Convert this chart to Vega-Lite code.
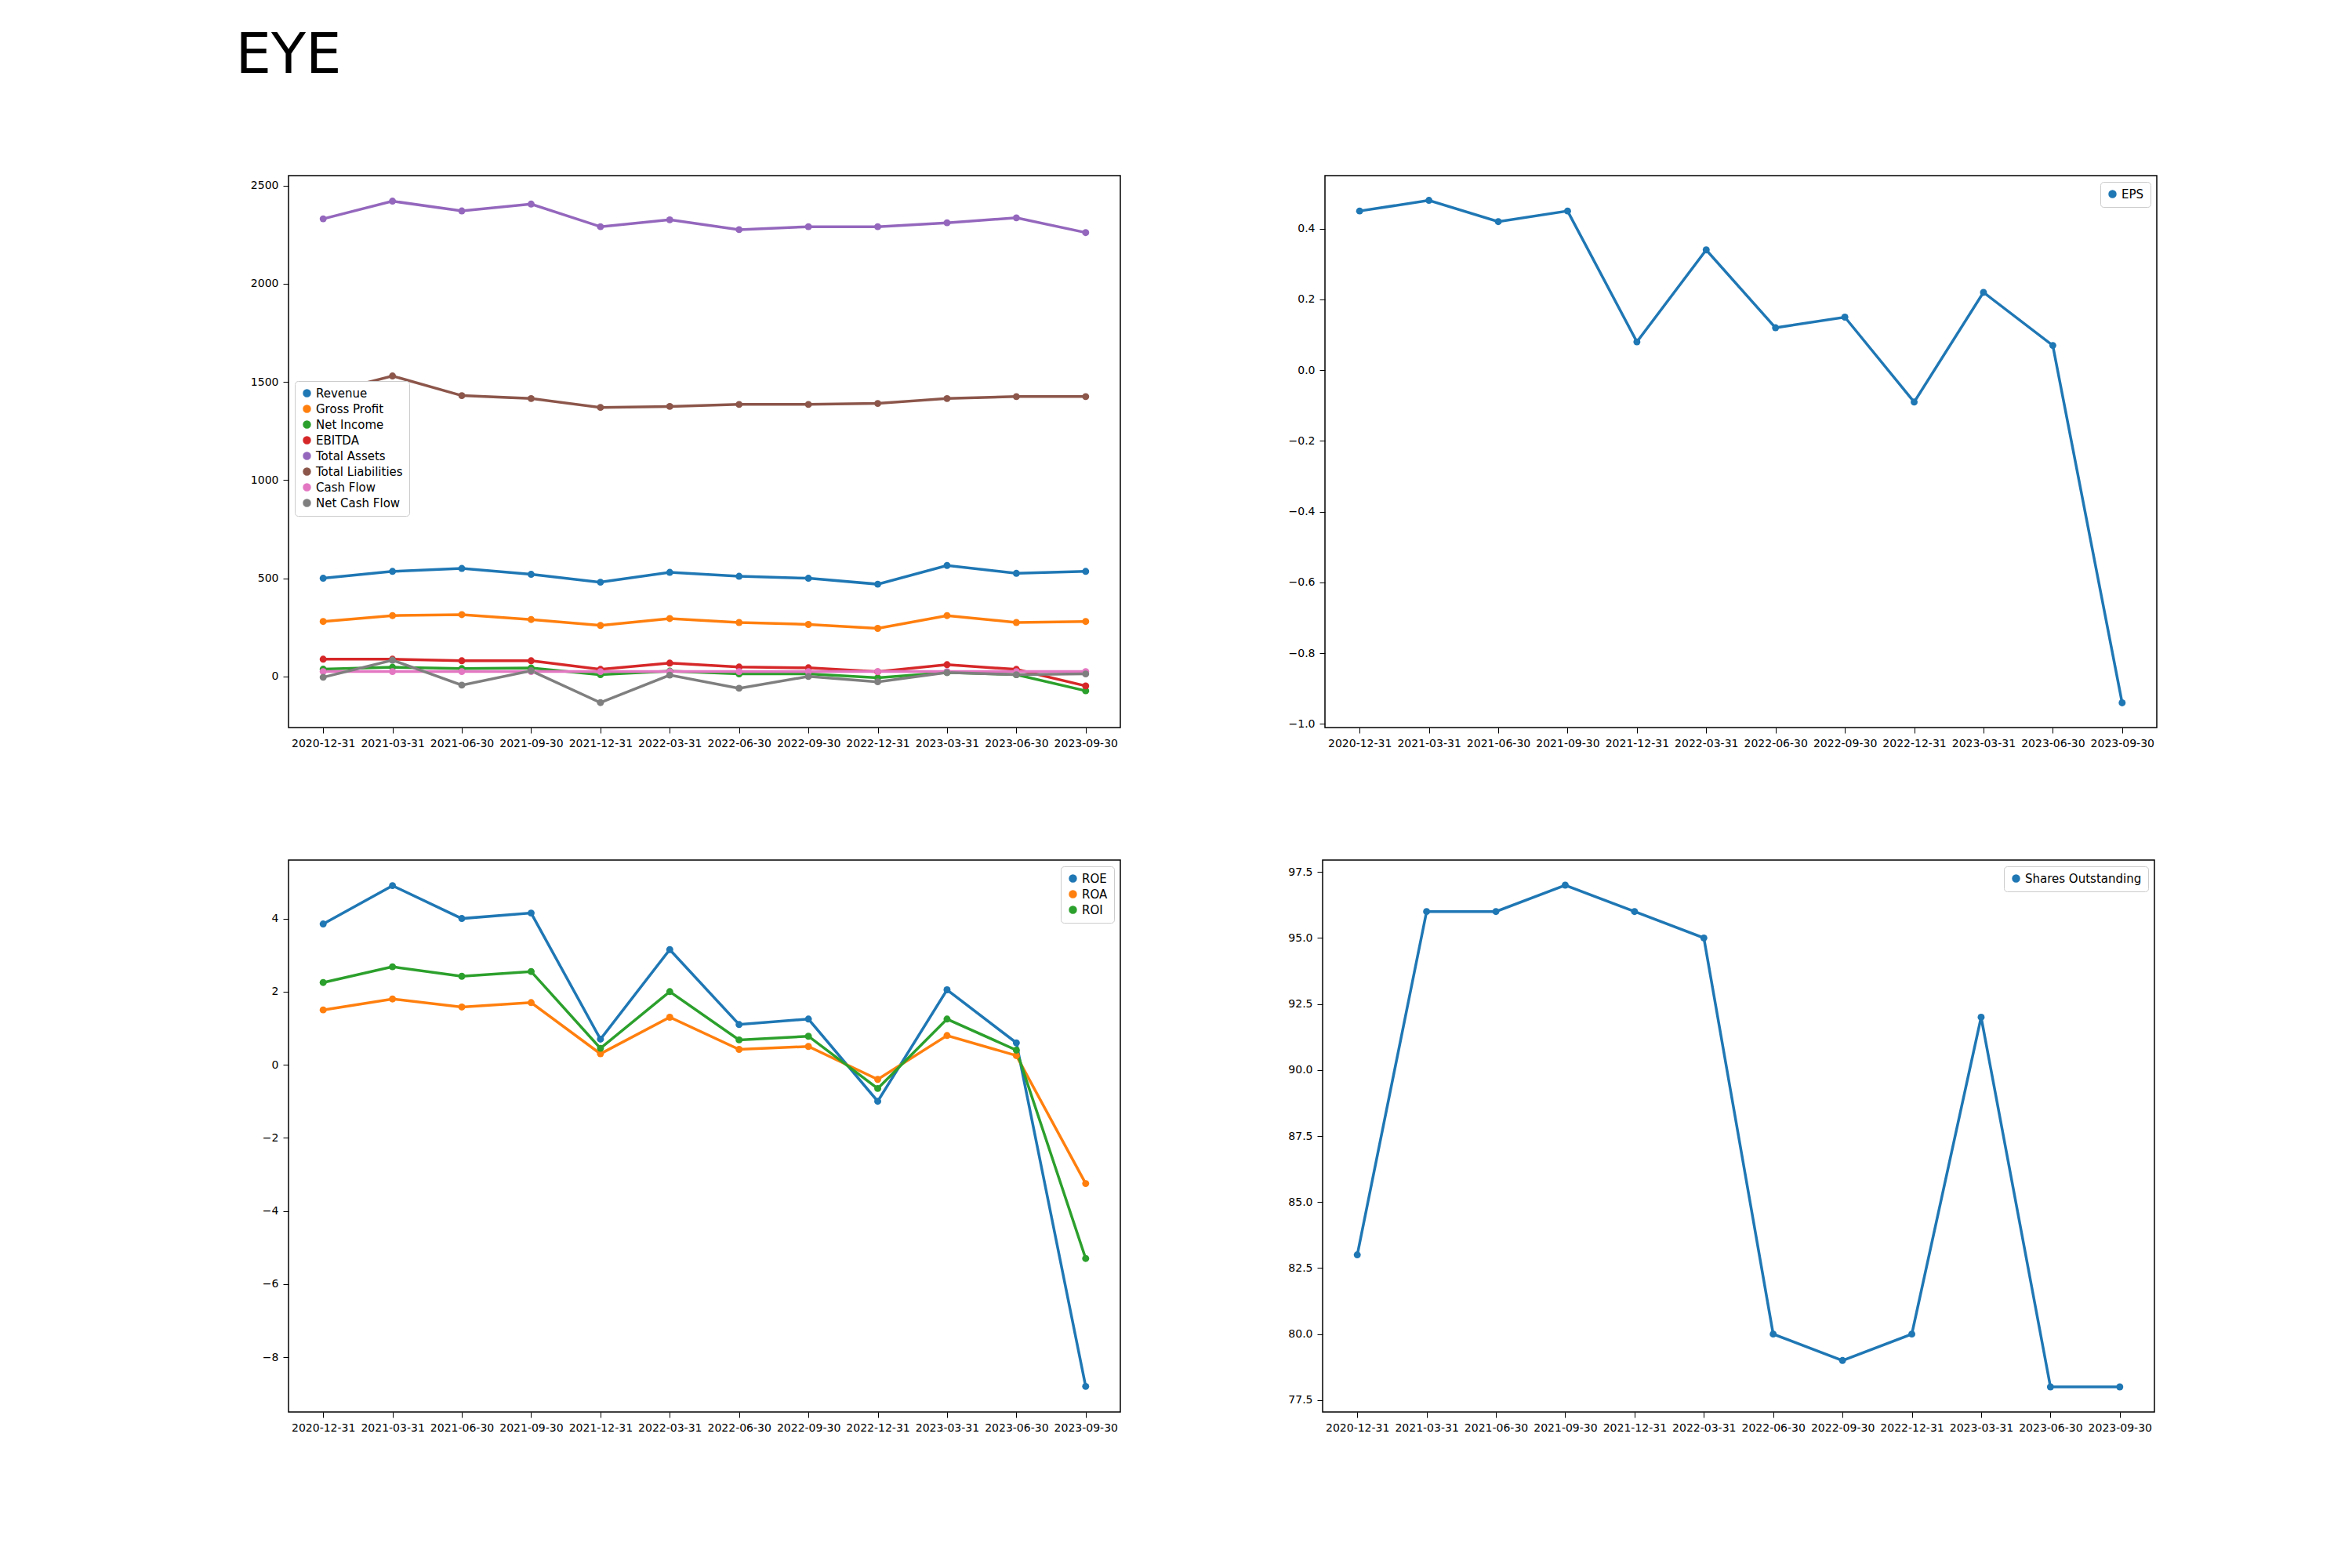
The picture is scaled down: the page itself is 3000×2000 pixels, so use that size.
{
  "$schema": "https://vega.github.io/schema/vega-lite/v6.json",
  "title": {"text": "EYE", "fontSize": 72, "font": "DejaVu Sans", "fontWeight": "normal", "offset": 115, "anchor": "middle", "frame": "group"},
  "padding": {"top": 35, "left": 300, "right": 40, "bottom": 20},
  "datasets": {
    "fin": [
      {"date": "2020-12-31", "Revenue": 500, "Gross Profit": 280, "Net Income": 37, "EBITDA": 88, "Total Assets": 2330, "Total Liabilities": 1440, "Cash Flow": 25, "Net Cash Flow": -4, "EPS": 0.45, "ROE": 3.85, "ROA": 1.5, "ROI": 2.25, "Shares Outstanding": 83},
      {"date": "2021-03-31", "Revenue": 535, "Gross Profit": 310, "Net Income": 47, "EBITDA": 88, "Total Assets": 2420, "Total Liabilities": 1530, "Cash Flow": 25, "Net Cash Flow": 83, "EPS": 0.48, "ROE": 4.9, "ROA": 1.8, "ROI": 2.68, "Shares Outstanding": 96},
      {"date": "2021-06-30", "Revenue": 550, "Gross Profit": 315, "Net Income": 40, "EBITDA": 80, "Total Assets": 2370, "Total Liabilities": 1430, "Cash Flow": 25, "Net Cash Flow": -44, "EPS": 0.42, "ROE": 4.0, "ROA": 1.58, "ROI": 2.42, "Shares Outstanding": 96},
      {"date": "2021-09-30", "Revenue": 520, "Gross Profit": 290, "Net Income": 43, "EBITDA": 80, "Total Assets": 2405, "Total Liabilities": 1415, "Cash Flow": 25, "Net Cash Flow": 29, "EPS": 0.45, "ROE": 4.15, "ROA": 1.7, "ROI": 2.55, "Shares Outstanding": 97},
      {"date": "2021-12-31", "Revenue": 480, "Gross Profit": 260, "Net Income": 9, "EBITDA": 36, "Total Assets": 2290, "Total Liabilities": 1370, "Cash Flow": 25, "Net Cash Flow": -133, "EPS": 0.08, "ROE": 0.7, "ROA": 0.3, "ROI": 0.45, "Shares Outstanding": 96},
      {"date": "2022-03-31", "Revenue": 530, "Gross Profit": 295, "Net Income": 27, "EBITDA": 68, "Total Assets": 2325, "Total Liabilities": 1375, "Cash Flow": 25, "Net Cash Flow": 7, "EPS": 0.34, "ROE": 3.15, "ROA": 1.3, "ROI": 2.0, "Shares Outstanding": 95},
      {"date": "2022-06-30", "Revenue": 510, "Gross Profit": 275, "Net Income": 13, "EBITDA": 48, "Total Assets": 2275, "Total Liabilities": 1385, "Cash Flow": 25, "Net Cash Flow": -60, "EPS": 0.12, "ROE": 1.1, "ROA": 0.42, "ROI": 0.68, "Shares Outstanding": 80},
      {"date": "2022-09-30", "Revenue": 500, "Gross Profit": 265, "Net Income": 13, "EBITDA": 44, "Total Assets": 2290, "Total Liabilities": 1385, "Cash Flow": 25, "Net Cash Flow": 0, "EPS": 0.15, "ROE": 1.25, "ROA": 0.5, "ROI": 0.78, "Shares Outstanding": 79},
      {"date": "2022-12-31", "Revenue": 470, "Gross Profit": 245, "Net Income": -7, "EBITDA": 24, "Total Assets": 2290, "Total Liabilities": 1390, "Cash Flow": 25, "Net Cash Flow": -27, "EPS": -0.09, "ROE": -1.0, "ROA": -0.4, "ROI": -0.65, "Shares Outstanding": 80},
      {"date": "2023-03-31", "Revenue": 565, "Gross Profit": 310, "Net Income": 20, "EBITDA": 60, "Total Assets": 2310, "Total Liabilities": 1415, "Cash Flow": 25, "Net Cash Flow": 20, "EPS": 0.22, "ROE": 2.05, "ROA": 0.8, "ROI": 1.25, "Shares Outstanding": 92},
      {"date": "2023-06-30", "Revenue": 525, "Gross Profit": 275, "Net Income": 9, "EBITDA": 36, "Total Assets": 2335, "Total Liabilities": 1425, "Cash Flow": 25, "Net Cash Flow": 9, "EPS": 0.07, "ROE": 0.6, "ROA": 0.25, "ROI": 0.4, "Shares Outstanding": 78},
      {"date": "2023-09-30", "Revenue": 535, "Gross Profit": 280, "Net Income": -73, "EBITDA": -48, "Total Assets": 2260, "Total Liabilities": 1425, "Cash Flow": 25, "Net Cash Flow": 13, "EPS": -0.94, "ROE": -8.8, "ROA": -3.25, "ROI": -5.3, "Shares Outstanding": 78}
    ]
  },
  "data": {"name": "fin"},
  "vconcat": [
    {
      "resolve": {"scale": {"color": "independent"}, "legend": {"color": "independent"}},
      "hconcat": [
        {
          "width": 1061, "height": 704,
          "transform": [{"fold": ["Revenue", "Gross Profit", "Net Income", "EBITDA", "Total Assets", "Total Liabilities", "Cash Flow", "Net Cash Flow"], "as": ["metric", "value"]}],
          "mark": {"type": "line", "point": {"size": 80, "filled": true}, "strokeWidth": 3.5},
          "encoding": {
            "x": {"field": "date", "type": "ordinal", "title": null},
            "y": {"field": "value", "type": "quantitative", "title": null, "scale": {"domain": [-260, 2550], "nice": false, "zero": false}, "axis": {"values": [0, 500, 1000, 1500, 2000, 2500], "format": "d"}},
            "color": {"field": "metric", "type": "nominal", "title": null,
              "scale": {"domain": ["Revenue", "Gross Profit", "Net Income", "EBITDA", "Total Assets", "Total Liabilities", "Cash Flow", "Net Cash Flow"], "range": ["#1f77b4", "#ff7f0e", "#2ca02c", "#d62728", "#9467bd", "#8c564b", "#e377c2", "#7f7f7f"]},
              "legend": {"orient": "none", "legendX": 8, "legendY": 262}}
          }
        },
        {
          "width": 1061, "height": 704,
          "transform": [{"fold": ["EPS"], "as": ["metric", "value"]}],
          "mark": {"type": "line", "point": {"size": 80, "filled": true}, "strokeWidth": 3.5},
          "encoding": {
            "x": {"field": "date", "type": "ordinal", "title": null},
            "y": {"field": "value", "type": "quantitative", "title": null, "scale": {"domain": [-1.01, 0.55], "nice": false, "zero": false}, "axis": {"values": [-1.0, -0.8, -0.6, -0.4, -0.2, 0.0, 0.2, 0.4], "format": ".1f"}},
            "color": {"field": "metric", "type": "nominal", "title": null, "scale": {"domain": ["EPS"], "range": ["#1f77b4"]}, "legend": {"orient": "top-right"}}
          }
        }
      ]
    },
    {
      "resolve": {"scale": {"color": "independent"}, "legend": {"color": "independent"}},
      "hconcat": [
        {
          "width": 1061, "height": 704,
          "transform": [{"fold": ["ROE", "ROA", "ROI"], "as": ["metric", "value"]}],
          "mark": {"type": "line", "point": {"size": 80, "filled": true}, "strokeWidth": 3.5},
          "encoding": {
            "x": {"field": "date", "type": "ordinal", "title": null},
            "y": {"field": "value", "type": "quantitative", "title": null, "scale": {"domain": [-9.5, 5.6], "nice": false, "zero": false}, "axis": {"values": [-8, -6, -4, -2, 0, 2, 4]}},
            "color": {"field": "metric", "type": "nominal", "title": null, "scale": {"domain": ["ROE", "ROA", "ROI"], "range": ["#1f77b4", "#ff7f0e", "#2ca02c"]}, "legend": {"orient": "top-right"}}
          }
        },
        {
          "width": 1061, "height": 704,
          "transform": [{"fold": ["Shares Outstanding"], "as": ["metric", "value"]}],
          "mark": {"type": "line", "point": {"size": 80, "filled": true}, "strokeWidth": 3.5},
          "encoding": {
            "x": {"field": "date", "type": "ordinal", "title": null},
            "y": {"field": "value", "type": "quantitative", "title": null, "scale": {"domain": [77.05, 97.95], "nice": false, "zero": false}, "axis": {"values": [77.5, 80, 82.5, 85, 87.5, 90, 92.5, 95, 97.5], "format": ".1f"}},
            "color": {"field": "metric", "type": "nominal", "title": null, "scale": {"domain": ["Shares Outstanding"], "range": ["#1f77b4"]}, "legend": {"orient": "top-right"}}
          }
        }
      ]
    }
  ],
  "spacing": 140,
  "config": {
    "font": "DejaVu Sans",
    "concat": {"spacing": 212},
    "view": {"stroke": "black", "strokeWidth": 1.5},
    "axis": {"grid": false, "domain": false, "labelFontSize": 14, "labelColor": "black", "tickColor": "black", "tickSize": 7, "labelPadding": 6, "labelOverlap": false},
    "axisX": {"labelAngle": 0, "bandPosition": 0.5},
    "scale": {"pointPadding": 0.5},
    "legend": {"labelFontSize": 15, "symbolType": "circle", "symbolSize": 80, "strokeColor": "#cccccc", "fillColor": "white", "padding": 8, "cornerRadius": 4, "offset": 8, "rowPadding": 4}
  }
}
